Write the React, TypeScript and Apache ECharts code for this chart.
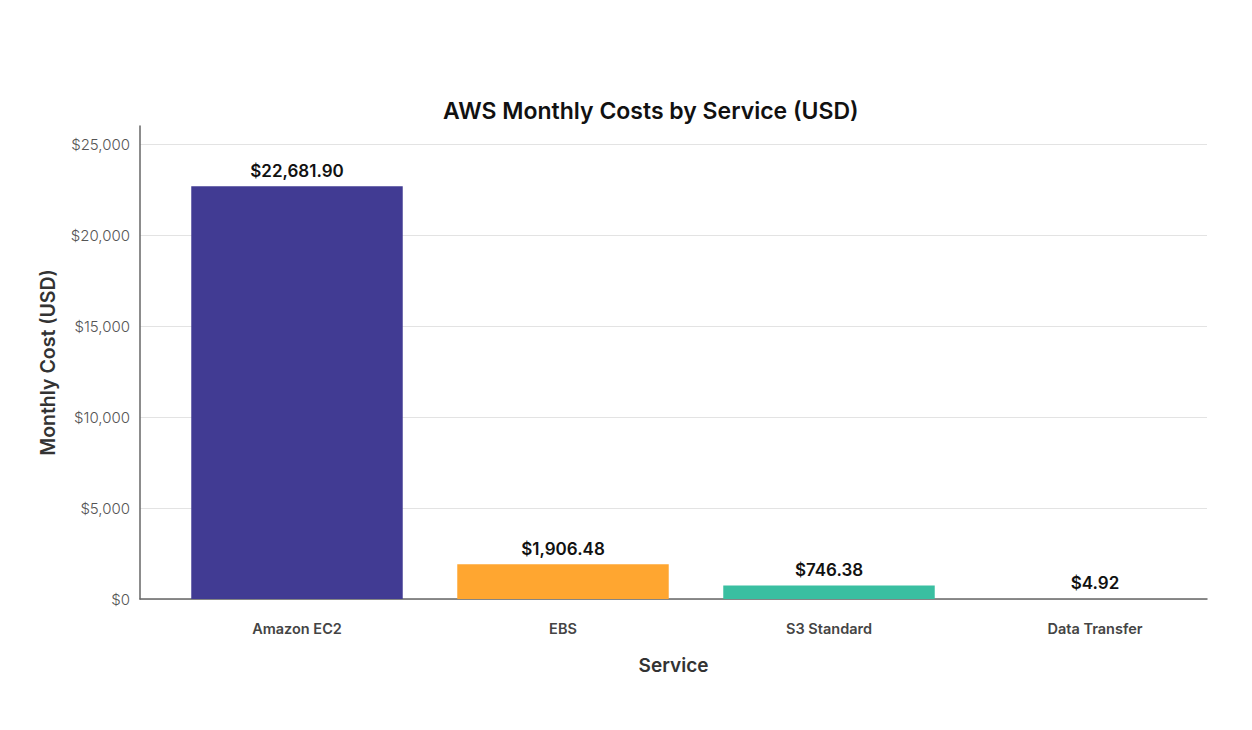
import * as echarts from "echarts";
import { useEffect, useRef } from "react";

const services = ["Amazon EC2", "EBS", "S3 Standard", "Data Transfer"];
const monthlyCosts = [22681.9, 1906.48, 746.38, 4.92];
const barColors = ["#413b93", "#ffa630", "#3abfa1", "#e4572e"];
const yTicks = [0, 5000, 10000, 15000, 20000, 25000];
const yMax = 26000;

const FONT = "Inter, 'Noto Sans', sans-serif";

const money = (v: number, digits: number) =>
  "$" + v.toLocaleString("en-US", { minimumFractionDigits: digits, maximumFractionDigits: digits });

export default function App() {
  const ref = useRef<HTMLDivElement | null>(null);

  useEffect(() => {
    if (!ref.current) {
      return;
    }
    document.body.style.margin = "0";

    const chart = echarts.init(ref.current, undefined, { renderer: "svg" });
    chart.setOption({
      animation: false,
      backgroundColor: "#ffffff",
      textStyle: { fontFamily: FONT },
      title: {
        text: "AWS Monthly Costs by Service (USD)",
        left: 438,
        top: 94,
        textStyle: { fontFamily: FONT, fontSize: 23, fontWeight: 600, color: "#111111" }
      },
      // frame grid: y ticks, gridlines, axis lines; bar grid: the categories
      grid: [
        { left: 140, right: 45, top: 126, bottom: 131 },
        { left: 164, right: 24, top: 126, bottom: 131 }
      ],
      xAxis: [
        {
          type: "category",
          gridIndex: 0,
          data: services,
          name: "Service",
          nameLocation: "middle",
          nameGap: 57,
          nameTextStyle: { fontFamily: FONT, fontSize: 19, fontWeight: 600, color: "#333333" },
          axisLine: { lineStyle: { color: "#666666", width: 1.5 } },
          axisTick: { show: false },
          axisLabel: { show: false }
        },
        {
          type: "category",
          gridIndex: 1,
          data: services,
          axisLine: { show: false },
          axisTick: { show: false },
          axisLabel: { margin: 22, fontSize: 14.5, fontWeight: 600, color: "#444444" }
        }
      ],
      yAxis: [
        {
          type: "value",
          gridIndex: 0,
          min: 0,
          max: yMax,
          interval: 5000,
          name: "Monthly Cost (USD)",
          nameLocation: "middle",
          nameGap: 82,
          nameTextStyle: { fontFamily: FONT, fontSize: 19.5, fontWeight: 600, color: "#333333" },
          axisLine: { show: true, lineStyle: { color: "#666666", width: 1.5 } },
          axisTick: { show: false },
          splitLine: { showMaxLine: false, lineStyle: { color: "#e3e3e3", width: 1 } },
          axisLabel: {
            margin: 10,
            fontSize: 15,
            fontWeight: 300,
            color: "#555555",
            showMaxLabel: false,
            formatter: (v: number) => (yTicks.includes(v) ? money(v, 0) : "")
          }
        },
        {
          type: "value",
          gridIndex: 1,
          min: 0,
          max: yMax,
          show: false,
          splitLine: { show: false }
        }
      ],
      series: [
        {
          type: "bar",
          xAxisIndex: 1,
          yAxisIndex: 1,
          barCategoryGap: "20.5%",
          data: monthlyCosts.map((v, i) => ({ value: v, itemStyle: { color: barColors[i] } })),
          label: {
            show: true,
            position: "top",
            distance: 7,
            fontFamily: FONT,
            fontSize: 17,
            fontWeight: 600,
            color: "#111111",
            formatter: (p: { value: number }) => money(p.value, 2)
          }
        }
      ]
    });

    return () => {
      chart.dispose();
    };
  }, []);

  return <div ref={ref} style={{ width: 1252, height: 730 }} />;
}
